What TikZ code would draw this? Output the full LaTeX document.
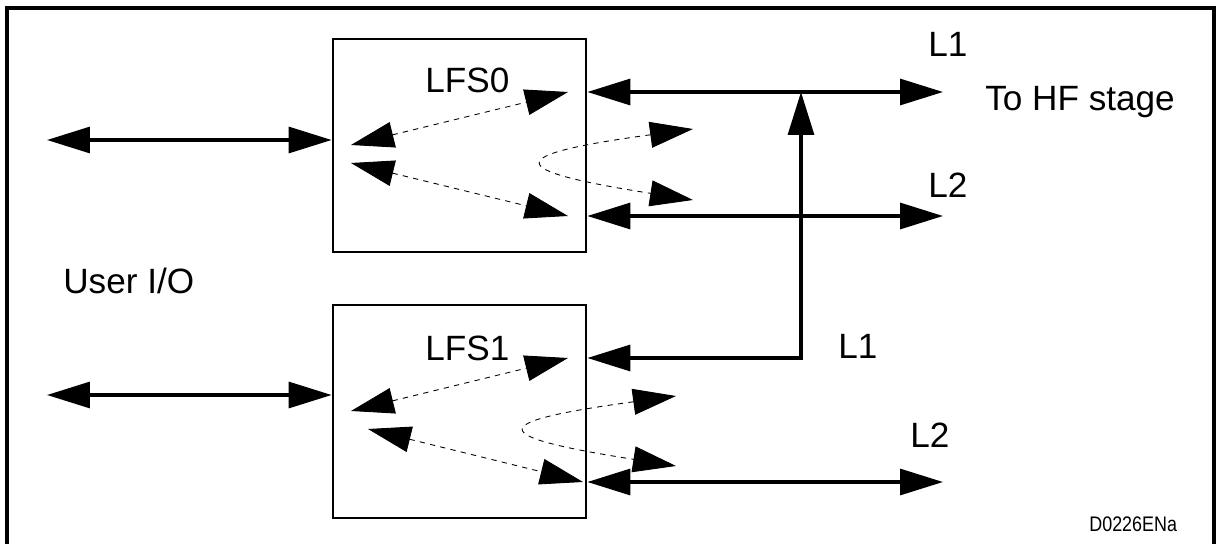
\documentclass[tikz,border=0pt]{standalone}
\usepackage{fontspec}
\setmainfont{Liberation Sans}
\usetikzlibrary{arrows.meta, positioning}

\begin{document}
\begin{tikzpicture}[
    x=0.02cm, y=-0.02cm,
    lfsbox/.style={rectangle, draw, line width=1.6pt,
        minimum width=5.06cm, minimum height=4.26cm, inner sep=0pt},
    txt/.style={font=\fontsize{20}{24}\selectfont, inner sep=0pt, anchor=base west},
    arr/.style={{Triangle[length=0.86cm, width=0.52cm]}-{Triangle[length=0.86cm, width=0.52cm]},
        line width=1.8pt},
    dsharr/.style={arr, line width=0.5pt, dash pattern=on 3pt off 3pt},
]
\useasboundingbox (0,0) rectangle (1218,544);
\draw[line width=2pt] (7,570) -- (7,8) -- (1214,8) -- (1214,570);
\node[lfsbox] (lfs0) at (459.5,145.5) {};
\node[lfsbox] (lfs1) at (459.5,411.5) {};
\node[txt] (name0) at (425,93) {LFS0};
\node[txt] (name1) at (425,360) {LFS1};
\node[txt] (user) at (63,293) {User I/O};
\node[txt] (l1top) at (928,57) {L1};
\node[txt] (hf) at (985,111) {To HF stage};
\node[txt] (l2top) at (928,197) {L2};
\node[txt] (l1bot) at (838,358) {L1};
\node[txt] (l2bot) at (910,447) {L2};
\node[font=\fontsize{12}{14}\selectfont, inner sep=0pt, anchor=base west] (code)
    at (1089,531) {\scalebox{0.85}[1]{D0226ENa}};
% user side
\foreach \i/\y in {0/140, 1/395} {
    \coordinate (io\i) at (47,\y);
    \draw[arr] (io\i) -- (io\i -| lfs\i.west);
}
% line side
\coordinate (out1) at (943,92);
\coordinate (out2) at (943,216);
\coordinate (out3) at (943,482);
\coordinate (tee) at (801,358);
\draw[arr] (out1 -| lfs0.east) -- (out1);
\draw[arr] (out2 -| lfs0.east) -- (out2);
\draw[arr] (out3 -| lfs1.east) -- (out3);
\draw[arr] (tee -| lfs1.east) -- (tee) -- (tee |- out1);
% dashed paths inside the boxes
\foreach \n/\x/\y in {a0/351/145, b0/568/92, c0/351/163, d0/568/216, e0/693/129, f0/693/200,
                      a1/351/411, b1/568/358, c1/368/429, d1/583/482, e1/676/396, f1/676/466} {
    \coordinate (\n) at (\x,\y);
}
\foreach \i in {0,1} {
    \draw[dsharr] (a\i) -- (b\i);
    \draw[dsharr] (c\i) -- (d\i);
    \draw[dsharr] (e\i) .. controls +(-191,26) and +(-191,-30) .. (f\i);
}
\end{tikzpicture}
\end{document}
